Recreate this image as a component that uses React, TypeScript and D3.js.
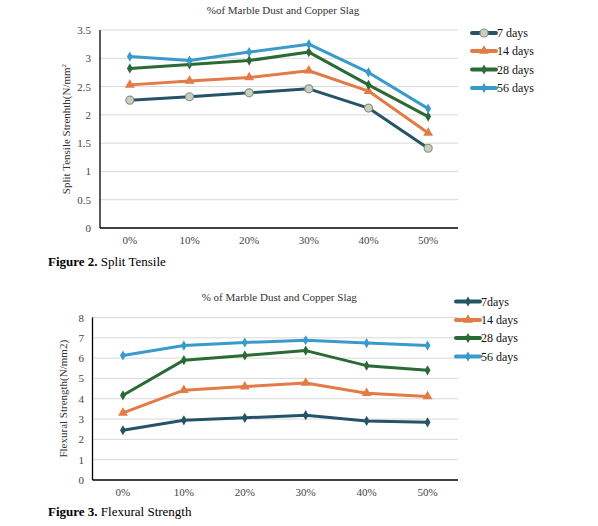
import React from 'react'
import * as d3 from 'd3'

// x categories shared by both figures
const categories = ['0%', '10%', '20%', '30%', '40%', '50%']

// Figure 2 - split tensile strength (N/mm2)
const splitLabels = ['7 days', '14 days', '28 days', '56 days']
const split7 = [2.26, 2.32, 2.39, 2.46, 2.12, 1.41]
const split14 = [2.53, 2.6, 2.66, 2.78, 2.42, 1.68]
const split28 = [2.82, 2.89, 2.96, 3.11, 2.53, 1.97]
const split56 = [3.03, 2.96, 3.11, 3.25, 2.75, 2.11]
const splitTicks = [0, 0.5, 1, 1.5, 2, 2.5, 3, 3.5]

// Figure 3 - flexural strength (N/mm2)
const flexLabels = ['7days', '14 days', '28 days', '56 days']
const flex7 = [2.45, 2.94, 3.06, 3.19, 2.91, 2.84]
const flex14 = [3.3, 4.42, 4.6, 4.78, 4.27, 4.11]
const flex28 = [4.17, 5.9, 6.13, 6.37, 5.63, 5.4]
const flex56 = [6.13, 6.62, 6.77, 6.88, 6.74, 6.62]
const flexTicks = [0, 1, 2, 3, 4, 5, 6, 7, 8]

const colors = ['#255468', '#e27b45', '#2b6a34', '#3a9acb']
const FONT = "'Liberation Serif', 'Times New Roman', serif"

type Marker = 'circle' | 'triangle' | 'diamond'

const markerPath = (type: Marker) => {
  if (type === 'triangle') return d3.symbol(d3.symbolTriangle, 42)()
  return d3.symbol(d3.symbolDiamond, 30)()
}

const Dot = ({ x, y, type, color }: { x: number; y: number; type: Marker; color: string }) =>
  type === 'circle' ? (
    <circle cx={x} cy={y} r={4} fill="#c9d1bd" stroke="#8a8f8a" strokeWidth={1.2} />
  ) : (
    <path d={markerPath(type) as string} transform={`translate(${x},${y})`} fill={color} />
  )

interface ChartProps {
  left: number
  right: number
  plotTop: number
  plotBottom: number
  yMax: number
  ticks: number[]
  series: number[][]
  labels: string[]
  markers: Marker[]
  title: string
  titleY: number
  yLabel: React.ReactNode
  yLabelX: number
  tickX: number
  legend: { x1: number; x2: number; ys: number[] }
  caption: [string, string]
  captionY: number
}

const LineChart = (p: ChartProps) => {
  const x = d3.scaleBand<string>().domain(categories).range([p.left, p.right])
  const y = d3.scaleLinear().domain([0, p.yMax]).range([p.plotBottom, p.plotTop])
  const cx = (i: number) => (x(categories[i]) as number) + x.bandwidth() / 2
  const line = d3
    .line<number>()
    .x((_, i) => cx(i))
    .y(d => y(d))

  return (
    <g>
      <text x={(p.left + p.right) / 2 + 4} y={p.titleY} fontSize={11} textAnchor="middle" fill="#333">
        {p.title}
      </text>
      {p.ticks.map(t => (
        <g key={t}>
          {t > 0 && <line x1={p.left} x2={p.right} y1={y(t)} y2={y(t)} stroke="#d9d9d9" />}
          <text x={p.tickX} y={y(t) + 4} fontSize={11} textAnchor="end" fill="#444">
            {t}
          </text>
        </g>
      ))}
      <line x1={p.left} x2={p.left} y1={p.plotTop} y2={p.plotBottom} stroke="#000" strokeWidth={1.3} />
      <line x1={p.left} x2={p.right} y1={p.plotBottom} y2={p.plotBottom} stroke="#000" strokeWidth={1.3} />
      {categories.map((c, i) => (
        <text key={c} x={cx(i)} y={p.plotBottom + 16} fontSize={11} textAnchor="middle" fill="#444">
          {c}
        </text>
      ))}
      <text
        transform={`translate(${p.yLabelX},${(p.plotTop + p.plotBottom) / 2}) rotate(-90)`}
        fontSize={11}
        textAnchor="middle"
        fill="#333"
      >
        {p.yLabel}
      </text>
      {p.series.map((s, k) => (
        <g key={k}>
          <path d={line(s) as string} fill="none" stroke={colors[k]} strokeWidth={3} strokeLinejoin="round" />
          {s.map((v, i) => (
            <Dot key={i} x={cx(i)} y={y(v)} type={p.markers[k]} color={colors[k]} />
          ))}
        </g>
      ))}
      {p.labels.map((l, k) => {
        const ly = p.legend.ys[k]
        return (
          <g key={l}>
            <line x1={p.legend.x1} x2={p.legend.x2} y1={ly} y2={ly} stroke={colors[k]} strokeWidth={4} strokeLinecap="round" />
            <Dot x={(p.legend.x1 + p.legend.x2) / 2} y={ly} type={p.markers[k]} color={colors[k]} />
            <text x={p.legend.x2 + 1} y={ly + 4} fontSize={12} fill="#111">
              {l}
            </text>
          </g>
        )
      })}
      <text x={48} y={p.captionY} fontSize={13} fill="#000">
        <tspan fontWeight="bold">{p.caption[0]}</tspan>
        <tspan> {p.caption[1]}</tspan>
      </text>
    </g>
  )
}

export default function App() {
  return (
    <svg
      width={598}
      height={526}
      style={{ position: 'absolute', left: 0, top: 0, background: '#fff', fontFamily: FONT }}
    >
      <LineChart
        left={100}
        right={458}
        plotTop={30}
        plotBottom={228}
        yMax={3.5}
        ticks={splitTicks}
        series={[split7, split14, split28, split56]}
        labels={splitLabels}
        markers={['circle', 'triangle', 'diamond', 'diamond']}
        title="%of Marble Dust and Copper Slag"
        titleY={14}
        yLabel={
          <>
            Split Tensile Strenhth(N/mm<tspan dy={-4} fontSize={7}>2</tspan>
          </>
        }
        yLabelX={70}
        tickX={91}
        legend={{ x1: 472, x2: 496, ys: [33, 51, 69.5, 88] }}
        caption={['Figure 2.', 'Split Tensile']}
        captionY={266}
      />
      <LineChart
        left={92.5}
        right={458}
        plotTop={317.5}
        plotBottom={480}
        yMax={8}
        ticks={flexTicks}
        series={[flex7, flex14, flex28, flex56]}
        labels={flexLabels}
        markers={['diamond', 'triangle', 'diamond', 'diamond']}
        title="% of Marble Dust and Copper Slag"
        titleY={301}
        yLabel="Flexural Strength(N/mm2)"
        yLabelX={67}
        tickX={84}
        legend={{ x1: 456, x2: 480, ys: [301.5, 320, 338, 356.5] }}
        caption={['Figure 3.', 'Flexural Strength']}
        captionY={516}
      />
    </svg>
  )
}
